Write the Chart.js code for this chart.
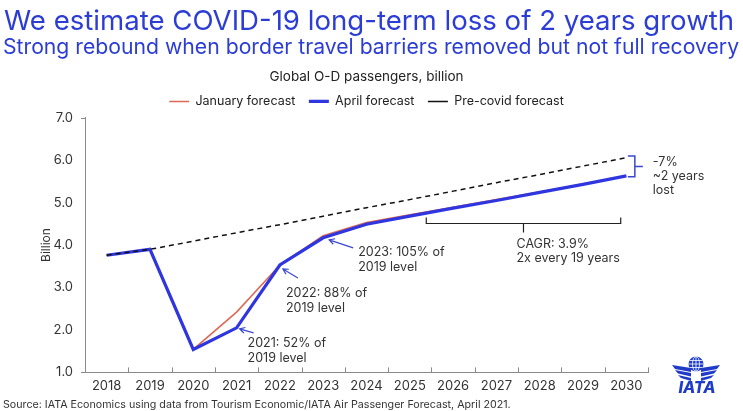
<!DOCTYPE html>
<html>
<head>
<meta charset="utf-8">
<script src="https://cdn.jsdelivr.net/npm/chart.js@4.4.1/dist/chart.umd.min.js"></script>
<style>
  html, body { margin: 0; padding: 0; background: #fff; }
  #wrap { width: 743px; height: 411px; }
</style>
</head>
<body>
<div id="wrap"><canvas id="paxChart" width="743" height="411"></canvas></div>
<script>
// data (billion passengers)
const years = ['2018', '2019', '2020', '2021', '2022', '2023', '2024', '2025', '2026', '2027', '2028', '2029', '2030'];
const januaryForecast = [3.76, 3.90, 1.54, 2.42, 3.53, 4.22, 4.53, 4.71, 4.89, 5.07, 5.25, 5.44, 5.63];
const aprilForecast = [3.76, 3.90, 1.54, 2.05, 3.53, 4.17, 4.49, 4.68, 4.87, 5.05, 5.24, 5.43, 5.63];
const precovidForecast = [3.76, 3.90, 4.09, 4.29, 4.48, 4.68, 4.88, 5.07, 5.27, 5.47, 5.66, 5.86, 6.06];
const yTicks = [1, 2, 3, 4, 5, 6, 7];

const FONT = 'Inter';
const TEXT = '#333333';
const HEAD_BLUE = '#2c3dd6';
const LINE_BLUE = '#2f36e0';
const NOTE_BLUE = '#3a48cf';

// callouts, pinned to a point of the April series
const callouts = [
  { idx: 3, lines: ['2021: 52% of', '2019 level'], tip: [3, 1], tail: [17, 5], text: [11, 15] },
  { idx: 4, lines: ['2022: 88% of', '2019 level'], tip: [3, 4], tail: [18, 13], text: [6, 28] },
  { idx: 5, lines: ['2023: 105% of', '2019 level'], tip: [6, 2], tail: [30, 10], text: [35, 14] }
];

function arrow(ctx, x1, y1, x2, y2) {
  const a = Math.atan2(y2 - y1, x2 - x1);
  ctx.beginPath();
  ctx.moveTo(x1, y1);
  ctx.lineTo(x2, y2);
  ctx.moveTo(x2 - 6 * Math.cos(a - 0.5), y2 - 6 * Math.sin(a - 0.5));
  ctx.lineTo(x2, y2);
  ctx.lineTo(x2 - 6 * Math.cos(a + 0.5), y2 - 6 * Math.sin(a + 0.5));
  ctx.stroke();
}

function drawLogo(ctx, cx, cy) {
  ctx.save();
  ctx.fillStyle = '#1f3cc8';
  // wings
  [[0, 19, 4], [5, 16, 3.5], [10, 13, 3]].forEach(([dy, len, h]) => {
    [-1, 1].forEach(s => {
      ctx.beginPath();
      ctx.moveTo(cx + s * 5, cy + 4 + dy);
      ctx.lineTo(cx + s * (5 + len), cy + 1 + dy);
      ctx.lineTo(cx + s * (5 + len - 3), cy + 1 + dy + h);
      ctx.lineTo(cx + s * 5, cy + 4 + dy + h);
      ctx.closePath();
      ctx.fill();
    });
  });
  // globe
  ctx.beginPath();
  ctx.arc(cx, cy, 7.5, 0, Math.PI * 2);
  ctx.fill();
  ctx.strokeStyle = '#fff';
  ctx.lineWidth = 0.8;
  ctx.beginPath();
  ctx.moveTo(cx - 7.5, cy); ctx.lineTo(cx + 7.5, cy);
  ctx.moveTo(cx, cy - 7.5); ctx.lineTo(cx, cy + 7.5);
  ctx.moveTo(cx - 6.5, cy - 3.5); ctx.lineTo(cx + 6.5, cy - 3.5);
  ctx.moveTo(cx - 6.5, cy + 3.5); ctx.lineTo(cx + 6.5, cy + 3.5);
  ctx.stroke();
  ctx.beginPath();
  ctx.ellipse(cx, cy, 3.5, 7.5, 0, 0, Math.PI * 2);
  ctx.stroke();
  ctx.font = `italic 800 16px ${FONT}`;
  ctx.textAlign = 'center';
  ctx.textBaseline = 'alphabetic';
  ctx.fillText('IATA', cx + 1, cy + 29);
  ctx.restore();
}

const slidePlugin = {
  id: 'slide',
  beforeDraw(chart) {
    const ctx = chart.ctx;
    ctx.save();
    ctx.fillStyle = '#fff';
    ctx.fillRect(0, 0, chart.width, chart.height);
    ctx.fillStyle = HEAD_BLUE;
    ctx.textAlign = 'left';
    ctx.textBaseline = 'alphabetic';
    ctx.font = `400 27.6px ${FONT}`;
    ctx.fillText('We estimate COVID-19 long-term loss of 2 years growth', 4, 30);
    ctx.font = `400 21.2px ${FONT}`;
    ctx.fillText('Strong rebound when border travel barriers removed but not full recovery', 3, 54);
    ctx.fillStyle = TEXT;
    ctx.font = `400 10.7px ${FONT}`;
    ctx.fillText('Source: IATA Economics using data from Tourism Economic/IATA Air Passenger Forecast, April 2021.', 3, 408);
    ctx.restore();
    drawLogo(ctx, 696, 364);
  },
  afterDraw(chart) {
    const ctx = chart.ctx;
    const x = chart.scales.x, y = chart.scales.y;
    const area = chart.chartArea;
    ctx.save();
    // little category ticks pointing up from the x axis
    ctx.strokeStyle = '#8a8a8a';
    ctx.lineWidth = 1;
    ctx.beginPath();
    for (let i = 0; i <= years.length; i++) {
      const px = Math.round(x.getPixelForValue(i - 0.5)) + 0.5;
      ctx.moveTo(px, area.bottom);
      ctx.lineTo(px, area.bottom - 5);
    }
    ctx.moveTo(area.left - 4, Math.round(y.getPixelForValue(7)) + 0.5);
    ctx.lineTo(area.left, Math.round(y.getPixelForValue(7)) + 0.5);
    ctx.moveTo(area.left - 4, Math.round(y.getPixelForValue(1)) + 0.5);
    ctx.lineTo(area.left, Math.round(y.getPixelForValue(1)) + 0.5);
    ctx.stroke();

    ctx.font = `400 12.5px ${FONT}`;
    ctx.textAlign = 'left';
    ctx.textBaseline = 'middle';

    // year callouts with arrows
    callouts.forEach(c => {
      const px = x.getPixelForValue(c.idx), py = y.getPixelForValue(aprilForecast[c.idx]);
      ctx.strokeStyle = NOTE_BLUE;
      ctx.lineWidth = 1.2;
      arrow(ctx, px + c.tail[0], py + c.tail[1], px + c.tip[0], py + c.tip[1]);
      ctx.fillStyle = TEXT;
      c.lines.forEach((t, k) => ctx.fillText(t, px + c.text[0], py + c.text[1] + k * 15));
    });

    // CAGR bracket under the long-run segment
    const bx1 = x.getPixelForValue(7.38), bx2 = x.getPixelForValue(11.87);
    const by = Math.round(y.getPixelForValue(4.52)) + 0.5;
    const bmid = (bx1 + bx2) / 2;
    ctx.strokeStyle = '#222';
    ctx.lineWidth = 1.2;
    ctx.beginPath();
    ctx.moveTo(bx1, by - 6); ctx.lineTo(bx1, by); ctx.lineTo(bx2, by); ctx.lineTo(bx2, by - 6);
    ctx.moveTo(bmid, by); ctx.lineTo(bmid, by + 9);
    ctx.stroke();
    ctx.fillStyle = TEXT;
    ctx.fillText('CAGR: 3.9%', bmid - 7, by + 21);
    ctx.fillText('2x every 19 years', bmid - 7, by + 35);

    // gap bracket at 2030
    const last = years.length - 1;
    const gx = x.getPixelForValue(last) + 8.5;
    const gTop = y.getPixelForValue(precovidForecast[last]) - 1.5;
    const gBot = y.getPixelForValue(aprilForecast[last]) + 1;
    const gMid = (gTop + gBot) / 2;
    ctx.strokeStyle = NOTE_BLUE;
    ctx.lineWidth = 1.5;
    ctx.beginPath();
    ctx.moveTo(gx - 7, gTop); ctx.lineTo(gx, gTop); ctx.lineTo(gx, gBot); ctx.lineTo(gx - 7, gBot);
    ctx.moveTo(gx, gMid); ctx.lineTo(gx + 8, gMid);
    ctx.stroke();
    ctx.fillStyle = TEXT;
    ['-7%', '~2 years', 'lost'].forEach((t, k) => ctx.fillText(t, gx + 18, gTop + 6 + k * 14));
    ctx.restore();
  }
};

new Chart(document.getElementById('paxChart').getContext('2d'), {
  type: 'line',
  data: {
    labels: years,
    datasets: [
      {
        label: 'January forecast',
        data: januaryForecast,
        borderColor: '#dc6a55',
        backgroundColor: '#dc6a55',
        borderWidth: 1.6,
        pointRadius: 0,
        tension: 0,
        order: 2
      },
      {
        label: 'April forecast',
        data: aprilForecast,
        borderColor: LINE_BLUE,
        backgroundColor: LINE_BLUE,
        borderWidth: 3.2,
        pointRadius: 0,
        tension: 0,
        order: 1
      },
      {
        label: 'Pre-covid forecast',
        data: precovidForecast,
        borderColor: '#111',
        backgroundColor: '#111',
        borderWidth: 1.5,
        borderDash: [5, 4],
        pointRadius: 0,
        tension: 0,
        order: 0
      }
    ]
  },
  options: {
    responsive: false,
    animation: false,
    devicePixelRatio: 1,
    layout: { padding: { top: 59, left: 35, right: 95, bottom: 11 } },
    plugins: {
      title: {
        display: true,
        fullSize: false,
        text: 'Global O-D passengers, billion',
        color: '#222',
        font: { family: FONT, size: 13.5, weight: 'normal' },
        padding: { top: 10, bottom: 0 }
      },
      legend: {
        fullSize: false,
        labels: {
          usePointStyle: true,
          pointStyle: 'line',
          pointStyleWidth: 20,
          color: '#222',
          font: { family: FONT, size: 12.5 },
          padding: 10,
          sort: (a, b) => a.datasetIndex - b.datasetIndex,
          // a bit more air between legend entries, as on the slide
          generateLabels: chart => Chart.defaults.plugins.legend.labels.generateLabels(chart)
            .map(item => item.datasetIndex < 2 ? { ...item, text: item.text + ' ' } : item)
        }
      },
      tooltip: { enabled: false }
    },
    scales: {
      x: {
        offset: true,
        grid: { display: false, drawTicks: false },
        border: { display: true, color: '#8a8a8a' },
        ticks: { color: TEXT, font: { family: FONT, size: 13 }, padding: 6, maxRotation: 0 }
      },
      y: {
        min: 1,
        max: 7,
        afterBuildTicks: axis => { axis.ticks = yTicks.map(v => ({ value: v })); },
        afterFit: axis => { axis.width = 50; },
        grid: { display: false, drawTicks: false },
        border: { display: true, color: '#8a8a8a' },
        ticks: { color: TEXT, font: { family: FONT, size: 13 }, padding: 12, callback: v => Number(v).toFixed(1) },
        title: { display: true, text: 'Billion', color: TEXT, font: { family: FONT, size: 12 } }
      }
    }
  },
  plugins: [slidePlugin]
});
</script>
</body>
</html>
